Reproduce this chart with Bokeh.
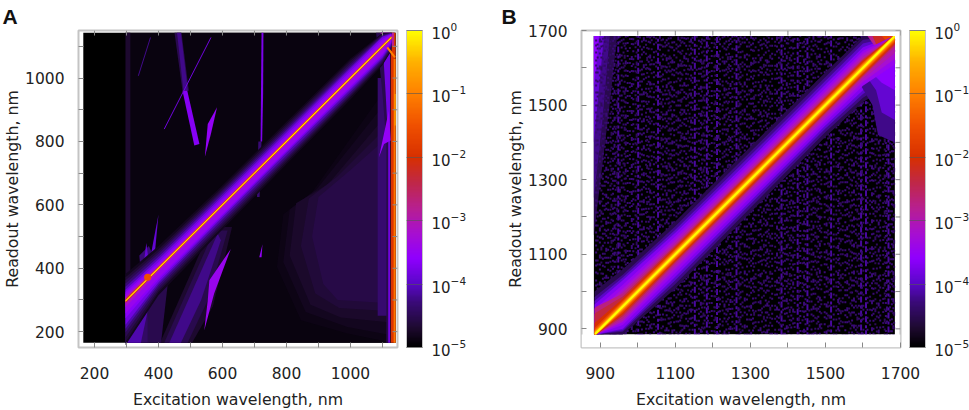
import numpy as np
from bokeh.embed import file_html
from bokeh.layouts import row
from bokeh.models import (ColorBar, ColumnDataSource, FixedTicker, LinearAxis,
                          LogColorMapper, LogTickFormatter, Range1d, Title)
from bokeh.plotting import figure
from bokeh.resources import INLINE

# colour scale
cmap_log = [-5, -4.7, -4.3, -4, -3.6, -3.2, -2.8, -2.4, -2, -1.5, -1, -0.5, 0]
cmap_hex = ["#000000", "#1e0a30", "#3a0a78", "#5a08c8", "#9000ff", "#a810d0", "#b82090",
            "#c02848", "#d83000", "#f05000", "#ff8000", "#ffb000", "#ffff00"]

cbar_ticks = [1e-5, 1e-4, 1e-3, 1e-2, 1e-1, 1]
cbar_minor = [2e-5, 5e-5, 2e-4, 5e-4, 2e-3, 5e-3, 2e-2, 5e-2, 2e-1, 5e-1]

# panel A: ridge and band half widths (readout offsets above / below the diagonal)
a_x = [297, 400, 600, 800, 1000, 1100, 1128]
a_bands = [
    (1.6e-5, [85, 70, 62, 62, 62, 42, 15], [140, 85, 78, 72, 68, 60, 42]),
    (2.2e-5, [75, 60, 55, 55, 55, 40, 15], [130, 75, 70, 65, 60, 55, 40]),
    (3.2e-5, [65, 52, 48, 48, 48, 38, 15], [115, 68, 62, 58, 55, 50, 35]),
    (5e-5, [55, 45, 42, 42, 42, 35, 15], [100, 60, 55, 52, 50, 45, 30]),
    (8e-5, [45, 36, 35, 35, 36, 32, 14], [88, 52, 46, 44, 43, 40, 25]),
    (1.5e-4, [35, 28, 28, 28, 30, 30, 12], [75, 45, 38, 36, 36, 35, 20]),
    (2.3e-4, [28, 20, 20, 20, 22, 24, 11], [55, 37, 33, 31, 30, 29, 16]),
    (3.5e-4, [22, 14, 14, 14, 16, 18, 10], [40, 30, 28, 26, 25, 24, 12]),
    (7e-4, [14, 9, 8, 8, 8, 9, 7], [20, 12, 10, 9, 9, 10, 7]),
    (2e-3, [9, 6, 5, 5, 5, 5, 5], [9, 6, 5, 5, 5, 5, 5]),
    (0.012, [5, 4, 4, 4, 4, 4, 4], [5, 4, 4, 4, 4, 4, 4]),
    (0.15, [3, 3, 3, 3, 3, 3, 3], [3, 3, 3, 3, 3, 3, 3]),
    (0.7, [1.5, 1.5, 1.5, 1.5, 1.5, 1.5, 1.5], [1.5, 1.5, 1.5, 1.5, 1.5, 1.5, 1.5]),
]

# panel A: other features as (level, xs, ys)
a_features = [
    (1e-5, [165, 1141, 1141, 165], [165, 165, 1143, 1143]),
    (1.3e-5, [297, 1141, 1141, 297], [165, 165, 1143, 1143]),
    (2e-5, [297, 312, 312, 297], [165, 165, 1143, 1143]),
    (1.4e-5, [790, 880, 1084, 1120, 1120, 990, 845, 770], [570, 640, 929, 929, 167, 194, 236, 404]),
    (1.6e-5, [810, 895, 1084, 1120, 1120, 990, 860, 790], [585, 650, 890, 890, 190, 215, 262, 420]),
    (1.9e-5, [830, 930, 1085, 1120, 1118, 970, 875, 810], [605, 665, 850, 850, 230, 245, 285, 440]),
    (2.3e-5, [870, 960, 1089, 1118, 1115, 965, 890, 845], [620, 690, 820, 820, 265, 275, 320, 470]),
    (2.8e-5, [900, 1000, 1090, 1115, 1110, 960, 915, 880], [625, 710, 790, 790, 290, 300, 350, 500]),
    (4.5e-5, [1085, 1115, 1115, 1085], [250, 250, 1000, 1000]),
    (2e-5, [405, 565, 630, 570, 505], [165, 530, 530, 280, 165]),
    (3e-5, [418, 574, 616, 554, 491], [165, 519, 519, 299, 165]),
    (6e-5, [434, 585, 595, 533, 470], [165, 509, 488, 299, 165]),
    (4e-5, [297, 297, 398, 370], [165, 330, 330, 165]),
    (8e-5, [297, 297, 380, 345], [165, 330, 330, 165]),
    (3e-5, [366, 429, 408, 366], [330, 351, 165, 165]),
    (5e-5, [340, 370, 400, 350], [440, 470, 400, 330]),
    (1.2e-4, [400, 388, 372], [570, 440, 420]),
    (1.2e-4, [362, 372, 352], [480, 400, 400]),
    (3e-5, [450, 472, 495, 475], [1143, 1143, 960, 960]),
    (6e-5, [458, 470, 492, 478], [1143, 1143, 960, 960]),
    (2.2e-4, [475, 490, 528, 512], [960, 960, 792, 787]),
    (3e-4, [583, 554, 545, 564], [908, 855, 752, 824]),
    (3.5e-4, [626, 559, 554, 543, 574], [461, 362, 299, 204, 320]),
    (5e-5, [712, 722, 716, 708], [800, 800, 625, 625]),
    (1.8e-4, [722, 728, 727, 724, 719], [1143, 1143, 950, 800, 800]),
    (3e-4, [725, 715, 722], [476, 435, 435]),
    (3e-5, [1080, 1124, 1124, 1112, 1112, 1100, 1090], [1143, 1143, 165, 165, 800, 950, 1050]),
    (1.5e-4, [1095, 1124, 1124, 1118, 1118, 1110, 1104], [1143, 1143, 165, 165, 800, 950, 1050]),
    (3e-4, [1089, 1120, 1126, 1105], [750, 897, 803, 792]),
    (0.012, [1126, 1141, 1141, 1126], [165, 165, 1143, 1143]),
    (0.08, [1135, 1141, 1141, 1135], [165, 165, 1060, 1060]),
    (0.3, [1138, 1141, 1141, 1138], [850, 850, 950, 950]),
    (1.5e-3, [1094, 1136, 1136, 1105], [1143, 1143, 1102, 1102]),
]
a_strokes = [
    (6e-5, [375, 337], [1128, 1007], 1),
    (1.5e-4, [564, 418], [1128, 839], 1),
    (0.1, [1115, 1139], [1097, 1065], 2),
]
a_spot_x, a_spot_y, a_spot_level = [366], [372], [0.03]

# panel B: same thing
b_x = [885, 889, 960, 1100, 1300, 1500, 1600, 1681, 1685]
b_bands_low = [
    (3e-5, [115, 115, 100, 88, 88, 88, 85, 4, 0], [0, 4, 75, 92, 88, 85, 92, 125, 125]),
    (6e-5, [100, 100, 85, 75, 75, 75, 75, 4, 0], [0, 4, 68, 80, 75, 72, 80, 110, 110]),
    (1e-4, [90, 90, 78, 66, 65, 65, 65, 4, 0], [0, 4, 64, 70, 66, 63, 70, 100, 100]),
    (2e-4, [80, 80, 70, 58, 55, 55, 55, 4, 0], [0, 4, 60, 60, 58, 55, 60, 90, 90]),
]
b_bands_high = [
    (3.5e-4, [68, 68, 58, 48, 46, 46, 46, 4, 0], [0, 4, 50, 50, 48, 46, 48, 75, 75]),
    (6e-4, [55, 55, 48, 40, 38, 38, 38, 4, 0], [0, 4, 42, 40, 38, 38, 38, 60, 60]),
    (1.1e-3, [48, 48, 40, 33, 31, 31, 31, 4, 0], [0, 4, 38, 33, 31, 31, 31, 45, 45]),
    (2e-3, [70, 70, 34, 27, 25, 25, 25, 4, 0], [0, 4, 32, 26, 25, 25, 25, 30, 30]),
    (4.5e-3, [55, 55, 27, 23, 22, 22, 22, 4, 0], [0, 4, 26, 22, 22, 22, 22, 24, 24]),
    (1e-2, [30, 30, 21, 19, 19, 19, 19, 4, 0], [0, 4, 21, 19, 19, 19, 19, 20, 20]),
    (2.5e-2, [17, 17, 16, 15, 15, 15, 15, 4, 0], [0, 4, 16, 15, 15, 15, 15, 16, 16]),
    (6e-2, [12, 12, 12, 12, 12, 12, 12, 4, 0], [0, 4, 12, 12, 12, 12, 12, 12, 12]),
    (0.25, [8, 8, 8, 8, 8, 8, 8, 4, 0], [0, 4, 8, 8, 8, 8, 8, 8, 8]),
    (1.0, [4, 4, 4, 4, 4, 4, 4, 4, 0], [0, 4, 4, 4, 4, 4, 4, 4, 4]),
]
b_features_under = [
    (1e-5, [883, 1685, 1685, 883], [885, 885, 1685, 1685]),
    (3e-5, [883, 945, 925, 883], [1685, 1685, 1500, 1150]),
    (6e-5, [883, 925, 905, 883], [1685, 1685, 1450, 1250]),
    (1.2e-4, [883, 910, 897, 883], [1685, 1685, 1550, 1400]),
    (2.5e-4, [883, 897, 889, 883], [1685, 1685, 1600, 1550]),
]
b_features_over = [
    (6e-5, [1590, 1685, 1685, 1640, 1625], [1560, 1600, 1400, 1420, 1500]),
    (1.2e-4, [1600, 1685, 1685, 1650, 1635], [1590, 1610, 1460, 1480, 1540]),
    (2.5e-4, [1610, 1685, 1685, 1650], [1600, 1620, 1540, 1560]),
    (1.5e-3, [1612, 1685, 1685, 1655], [1685, 1685, 1615, 1625]),
    (6e-3, [1625, 1685, 1685, 1650], [1685, 1685, 1630, 1630]),
    (0.02, [1650, 1685, 1685], [1685, 1685, 1650]),
]

# panel B: vertical streaks of single counts, (level, dash, columns)
b_streaks = [
    (7e-5, "6 2 3 3", [948, 1001, 1054, 1152, 1184, 1211, 1263, 1383, 1426, 1452, 1515, 1595, 1608, 1668]),
    (5e-5, "2 3 2 6 2 5", [889, 907, 921, 934, 957, 973, 988, 1011, 1029, 1043, 1067, 1082, 1097, 1113, 1129, 1146,
                           1163, 1178, 1197, 1219, 1236, 1252, 1274, 1291, 1307, 1322, 1341, 1358, 1376, 1392, 1409,
                           1433, 1447, 1463, 1481, 1498, 1522, 1537, 1553, 1571, 1589, 1612, 1628, 1646, 1661, 1677]),
    (4e-5, "2 7 2 2 2 9", [893, 912, 927, 941, 962, 979, 994, 1006, 1022, 1037, 1049, 1073, 1088, 1103, 1119, 1138,
                           1157, 1171, 1191, 1204, 1226, 1243, 1258, 1279, 1297, 1314, 1331, 1349, 1366, 1387, 1401,
                           1418, 1439, 1457, 1473, 1489, 1507, 1529, 1546, 1563, 1581, 1601, 1619, 1637, 1654, 1672]),
    (5e-5, "2 5 4 11 2 3", [899, 916, 938, 952, 968, 984, 1016, 1033, 1059, 1077, 1092, 1108, 1124, 1142, 1168, 1187,
                            1215, 1231, 1247, 1268, 1285, 1302, 1327, 1345, 1371, 1397, 1414, 1443, 1468, 1485, 1503,
                            1534, 1558, 1576, 1597, 1624, 1642, 1664, 1681]),
    (3.5e-5, "2 9 2 3 2 6 4 8", [903, 930, 945, 965, 997, 1025, 1063, 1085, 1116, 1134, 1175, 1207, 1240, 1271, 1310, 1336,
                                 1353, 1380, 1405, 1429, 1477, 1511, 1541, 1567, 1585, 1633, 1658, 1683]),
]
dash_starts = [853, 871, 860, 884, 866, 878, 856, 882, 863, 875, 869, 858, 880]

x_ticks_a = [200, 400, 600, 800, 1000]
x_minor_a = [300, 500, 700, 900, 1100]
ticks_b = [900, 1100, 1300, 1500, 1700]
minor_b = [1000, 1200, 1400, 1600]

xlabel = "Excitation wavelength, nm"
ylabel = "Readout wavelength, nm"
FONT = "DejaVu Sans"
GREY = "#c4c4c4"
TXT = "#222222"
TICK = "#888888"

grid = np.linspace(-5, 0, 256)
ch = [np.interp(grid, cmap_log, [int(c[i:i + 2], 16) for c in cmap_hex]) for i in (1, 3, 5)]
palette = ["#%02x%02x%02x" % (int(r), int(g), int(b)) for r, g, b in zip(*ch)]
mapper = LogColorMapper(palette=palette, low=1e-5, high=1)


def add_features(p, features):
    src = ColumnDataSource(dict(xs=[f[1] for f in features], ys=[f[2] for f in features],
                                level=[f[0] for f in features]))
    p.patches("xs", "ys", source=src, line_color=None,
              fill_color={"field": "level", "transform": mapper})


def band_features(x, bands):
    out = []
    for level, up, down in bands:
        ys = [a + b for a, b in zip(x, up)] + [a - b for a, b in zip(x[::-1], down[::-1])]
        out.append((level, list(x) + list(x[::-1]), ys))
    return out


def add_mirror_ticks(p, xt, yt, xr, yr):
    # top and right ticks, no labels there
    dy = 5 * (yr[1] - yr[0]) / 317
    dx = 5 * (xr[1] - xr[0]) / 319
    p.segment(xt, [yr[1]] * len(xt), xt, [yr[1] - dy] * len(xt), line_color=TICK, line_width=1)
    p.segment([xr[1]] * len(yt), yt, [xr[1] - dx] * len(yt), yt, line_color=TICK, line_width=1)


def make_panel(width, left, right, xr, yr, xt, xm, yt, ym, letter, letter_offset):
    p = figure(width=width, height=408, x_range=Range1d(*xr), y_range=Range1d(*yr),
               output_backend="svg", toolbar_location=None, x_axis_location=None, y_axis_location=None,
               frame_width=319, frame_height=317, min_border_left=left, min_border_right=right,
               min_border_top=30, min_border_bottom=47)
    p.grid.visible = False
    p.background_fill_color = "white"
    p.outline_line_color = GREY
    p.outline_line_width = 2
    for side, xdir in (("below", True), ("left", False)):
        ticker = FixedTicker(ticks=xt if xdir else yt, minor_ticks=xm if xdir else ym)
        ax = LinearAxis(ticker=ticker, axis_line_color=None, major_tick_in=5, major_tick_out=0,
                        minor_tick_in=5, minor_tick_out=0, major_tick_line_color=TICK,
                        minor_tick_line_color=TICK, major_tick_line_width=1)
        ax.axis_label = xlabel if xdir else ylabel
        ax.axis_label_text_font = FONT
        ax.axis_label_text_font_size = "15.75px"
        ax.axis_label_text_font_style = "normal"
        ax.axis_label_text_color = TXT
        ax.major_label_text_font = FONT
        ax.major_label_text_font_size = "15.5px"
        ax.major_label_text_color = TXT
        ax.major_label_standoff = 19 if xdir else 14
        ax.axis_label_standoff = 8 if xdir else 0
        p.add_layout(ax, side)
    cb = ColorBar(color_mapper=mapper, width=16, height=317, margin=0, padding=0, location=(9, 0),
                  ticker=FixedTicker(ticks=cbar_ticks, minor_ticks=cbar_minor),
                  formatter=LogTickFormatter(), major_tick_in=16, major_tick_line_color="#555555",
                  major_tick_line_alpha=0.6, minor_tick_line_color="#555555", minor_tick_line_alpha=0.5,
                  bar_line_color=GREY, bar_line_width=1, major_label_text_font=FONT,
                  major_label_text_font_size="15px", major_label_text_color=TXT, label_standoff=9,
                  background_fill_color=None, border_line_color=None)
    p.add_layout(cb, "right")
    p.add_layout(Title(text=letter, align="left", offset=letter_offset, standoff=5,
                       text_font="Liberation Sans", text_font_style="bold", text_font_size="21px",
                       text_line_height=1.0, text_color="#111111"), "above")
    return p


xr_a, yr_a = (150, 1147), (150, 1150)
pa = make_panel(490, 78, 93, xr_a, yr_a, x_ticks_a, x_minor_a, x_ticks_a, x_minor_a, "A", -76)
add_features(pa, a_features)
add_features(pa, band_features(a_x, a_bands))
pa.multi_line([s[1] for s in a_strokes], [s[2] for s in a_strokes],
              line_color=[palette[int((np.log10(s[0]) + 5) / 5 * 255)] for s in a_strokes],
              line_width=[s[3] for s in a_strokes])
pa.scatter("x", "y", size=7, line_color=None,
           fill_color={"field": "level", "transform": mapper},
           source=ColumnDataSource(dict(x=a_spot_x, y=a_spot_y, level=a_spot_level)))
add_mirror_ticks(pa, x_ticks_a + x_minor_a, x_ticks_a + x_minor_a, xr_a, yr_a)

xr_b, yr_b = (850, 1700), (850, 1700)
pb = make_panel(479, 91, 69, xr_b, yr_b, ticks_b, minor_b, ticks_b, minor_b, "B", -80)
add_features(pb, b_features_under)
for level, dash, cols in b_streaks:
    y0 = [dash_starts[i % len(dash_starts)] for i in range(len(cols))]
    src = ColumnDataSource(dict(x0=cols, y0=y0, y1=[1685] * len(cols), level=[level] * len(cols)))
    pb.segment("x0", "y0", "x0", "y1", source=src, line_width=2, line_dash=dash,
               line_color={"field": "level", "transform": mapper})
# blank strip below the data block, streaks begin under it
pb.quad(left=[850], right=[1700], bottom=[850], top=[885], fill_color="white", line_color=None)
add_features(pb, band_features(b_x, b_bands_low))
add_features(pb, b_features_over)
add_features(pb, band_features(b_x, b_bands_high))
add_mirror_ticks(pb, ticks_b + minor_b, ticks_b + minor_b, xr_b, yr_b)

page = row(pa, pb, spacing=0)
open("out.html", "w").write(file_html(page, INLINE))
